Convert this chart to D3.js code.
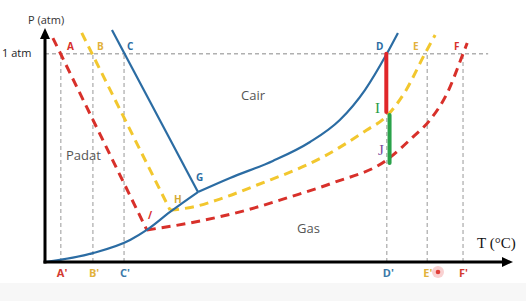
<!DOCTYPE html>
<html>
<head>
<meta charset="utf-8">
<script src="https://cdn.jsdelivr.net/npm/d3@7"></script>
<style>
  body { margin: 0; background: #fff; }
  svg { display: block; }
</style>
</head>
<body>
<div id="chart"></div>
<script>
// schematic units: T 0..100, P 0..100 (1 atm = 89)
const atm = 89

const tickNames = ["A'", "B'", "C'", "D'", "E'", "F'"]
const tickTemps = [3.4, 10.3, 17.0, 73.5, 82.2, 89.9]
const tickColors = ['#d33a2f', '#e2b23c', '#3a78a8', '#3a78a8', '#e2b23c', '#d33a2f']

// blue (solid): sublimation, fusion, vaporization
const blueSub = [[0, 0], [10.3, 3.8], [18.3, 9.4], [21.9, 13.7], [26.9, 21.4], [32.9, 29.9]]
const blueFus = [[14.4, 99.1], [32.9, 29.9]]
const blueVap = [[32.9, 29.9], [39.8, 35.9], [49.0, 43.2], [57.0, 51.3], [63.4, 60.7], [68.8, 73.5], [73.5, 89], [75.9, 97.9]]

// yellow (dashed)
const yellowFus = [[7.9, 97.9], [26.9, 22.2]]
const yellowVap = [[26.9, 22.2], [31.8, 23.5], [37.6, 26.9], [45.6, 32.9], [59.8, 44.9], [69.2, 56.4], [73.3, 62.0], [77.4, 72.6], [81.7, 89], [83.9, 97.0]]

// red (dashed)
const redFus = [[1.7, 95.7], [21.9, 13.7]]
const redVap = [[21.9, 13.7], [31.2, 16.7], [43.4, 22.2], [52.7, 27.8], [61.9, 33.8], [73.5, 43.6], [79.1, 53.4], [82.8, 60.7], [86.5, 72.2], [89.9, 89], [90.8, 93.6]]

// vertical bars at D'
const barRed = [73.4, 89, 64.1]
const barGreen = [74.1, 62.8, 42.3]

const W = 526, H = 301
const x = d3.scaleLinear().domain([0, 100]).range([45, 510])
const y = d3.scaleLinear().domain([0, 100]).range([262, 28])

const svg = d3.select('#chart').append('svg')
  .attr('width', W).attr('height', H)
  .attr('viewBox', `0 0 ${W} ${H}`)

svg.append('rect').attr('x', 0).attr('y', 283).attr('width', W).attr('height', 18).attr('fill', '#f7f7f7')

const sans = "'Open Sans', 'Noto Sans', sans-serif"
const serif = "'Liberation Serif', 'DejaVu Serif', serif"

// guide lines
const guide = svg.append('g').attr('stroke', '#b0b0b0').attr('stroke-width', 1.3).attr('stroke-dasharray', '4,3')
guide.append('line').attr('x1', x(0)).attr('x2', x(95.3)).attr('y1', y(atm)).attr('y2', y(atm))
guide.selectAll('.v').data(tickTemps).enter().append('line')
  .attr('x1', d => x(d)).attr('x2', d => x(d))
  .attr('y1', y(0)).attr('y2', y(atm))

const line = d3.line().x(d => x(d[0])).y(d => y(d[1]))
const curve = d3.line().x(d => x(d[0])).y(d => y(d[1])).curve(d3.curveMonotoneX)

const red = '#d8302a', yellow = '#f2c72e', blue = '#2b6ca3'

function path(data, gen, color, dashed) {
  svg.append('path').datum(data)
    .attr('d', gen)
    .attr('fill', 'none')
    .attr('stroke', color)
    .attr('stroke-width', dashed ? 3 : 2.2)
    .attr('stroke-dasharray', dashed ? '9,6' : null)
}

path(redFus, line, red, true)
path(redVap, curve, red, true)
path(yellowFus, line, yellow, true)
path(yellowVap, curve, yellow, true)
path(blueSub, curve, blue, false)
path(blueFus, line, blue, false)
path(blueVap, curve, blue, false)

// bars
svg.append('line').attr('x1', x(barRed[0])).attr('x2', x(barRed[0]))
  .attr('y1', y(barRed[1])).attr('y2', y(barRed[2]))
  .attr('stroke', '#e0262a').attr('stroke-width', 4).attr('stroke-linecap', 'round')
svg.append('line').attr('x1', x(barGreen[0])).attr('x2', x(barGreen[0]))
  .attr('y1', y(barGreen[1])).attr('y2', y(barGreen[2]))
  .attr('stroke', '#2aa24a').attr('stroke-width', 4).attr('stroke-linecap', 'round')

// axes
svg.append('line').attr('x1', x(0)).attr('x2', x(0)).attr('y1', y(0) + 1.5).attr('y2', 36)
  .attr('stroke', '#000').attr('stroke-width', 3)
svg.append('path').attr('d', `M${x(0)},28 L${x(0) - 5},39 L${x(0) + 5},39 Z`).attr('fill', '#000')
svg.append('line').attr('x1', x(0) - 1.5).attr('x2', 504).attr('y1', y(0)).attr('y2', y(0))
  .attr('stroke', '#000').attr('stroke-width', 3)
svg.append('path').attr('d', `M513,${y(0)} L502,${y(0) - 5} L502,${y(0) + 5} Z`).attr('fill', '#000')

// bottom tick labels
svg.selectAll('.tl').data(tickNames).enter().append('text')
  .attr('x', (d, i) => x(tickTemps[i]) - 4)
  .attr('y', 277)
  .attr('font-family', sans).attr('font-size', 11).attr('font-weight', 'bold')
  .attr('fill', (d, i) => tickColors[i])
  .text(d => d)

// cursor dot near E'
svg.append('circle').attr('cx', 438).attr('cy', 272).attr('r', 6).attr('fill', '#f7c6c6').attr('opacity', 0.8)
svg.append('circle').attr('cx', 438).attr('cy', 272).attr('r', 2.3).attr('fill', '#e0403a')

function label(t, px, py, opts) {
  svg.append('text').attr('x', px).attr('y', py)
    .attr('font-family', opts.font || sans)
    .attr('font-size', opts.size || 11)
    .attr('font-weight', opts.bold ? 'bold' : 'normal')
    .attr('fill', opts.color || '#333')
    .text(t)
}

label('P (atm)', 28, 24, { size: 11, color: '#333' })
label('1 atm', 2, 57, { size: 11, color: '#222' })
label('T (°C)', 477, 248, { font: serif, size: 15, color: '#111' })

label('A', 67, 50, { size: 10, bold: true, color: red })
label('B', 97, 50, { size: 10, bold: true, color: '#e2b23c' })
label('C', 127, 50, { size: 10, bold: true, color: blue })
label('D', 376, 50, { size: 10, bold: true, color: blue })
label('E', 413, 50, { size: 10, bold: true, color: '#e2b23c' })
label('F', 454, 50, { size: 10, bold: true, color: red })
label('G', 196, 181, { size: 10, bold: true, color: blue })
label('H', 174, 203, { size: 10, bold: true, color: '#d4ab34' })
label('/', 148, 219, { size: 10, bold: true, color: red })

label('Padat', 66, 160, { size: 13, color: '#555' })
label('Cair', 241, 100, { size: 13, color: '#555' })
label('Gas', 297, 233, { size: 13, color: '#555' })

label('I', 375, 113, { font: serif, size: 15, color: '#2a9a45' })
label('J', 378, 155, { font: serif, size: 15, color: '#7a4a9c' })
</script>
</body>
</html>
